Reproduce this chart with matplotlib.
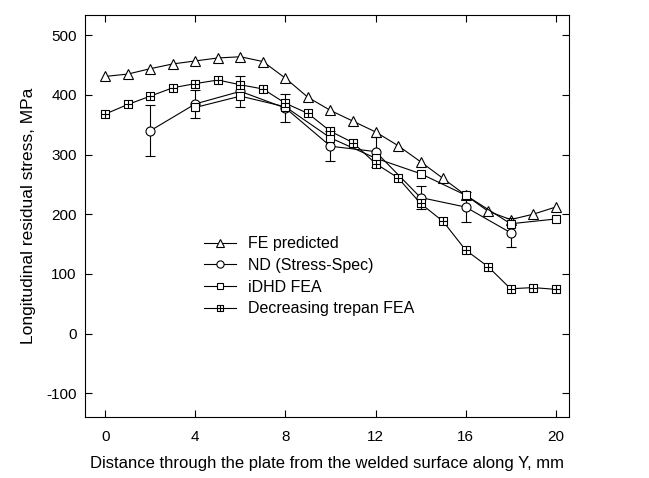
import numpy as np
import matplotlib
matplotlib.use("Agg")
import matplotlib.pyplot as plt
from matplotlib.path import Path
from matplotlib.lines import Line2D

plt.rcParams["font.family"] = ["Liberation Sans", "DejaVu Sans"]
plt.rcParams["axes.unicode_minus"] = False

# distance through plate (mm)
x_fe = [0, 1, 2, 3, 4, 5, 6, 7, 8, 9, 10, 11, 12, 13, 14, 15, 16, 17, 18, 19, 20]
fe_predicted = [431, 435, 444, 452, 457, 462, 464, 456, 428, 396, 374, 356, 338,
                315, 288, 260, 232, 205, 191, 200, 212]

x_trepan = [0, 1, 2, 3, 4, 5, 6, 7, 8, 9, 10, 11, 12, 13, 14, 15, 16, 17, 18, 19, 20]
trepan_fea = [368, 384, 398, 412, 419, 425, 417, 410, 386, 369, 339, 320, 285,
              261, 218, 188, 140, 112, 75, 77, 74]

x_nd = [2, 4, 6, 8, 10, 12, 14, 16, 18]
nd_stress = [340, 385, 406, 378, 314, 305, 228, 212, 169]
nd_err = [43, 23, 26, 24, 25, 25, 20, 25, 24]

x_idhd = [4, 6, 8, 10, 12, 14, 16, 18, 20]
idhd_fea = [379, 398, 380, 328, 294, 268, 232, 184, 192]

# square with a cross inside
sq_plus = Path(
    [(-1, -1), (1, -1), (1, 1), (-1, 1), (-1, -1), (0, -1), (0, 1), (-1, 0), (1, 0)],
    [Path.MOVETO, Path.LINETO, Path.LINETO, Path.LINETO, Path.CLOSEPOLY,
     Path.MOVETO, Path.LINETO, Path.MOVETO, Path.LINETO],
)

fig = plt.figure(figsize=(6.49, 4.78), dpi=100)
ax = fig.add_axes([0.131, 0.1276, 0.746, 0.841])

lw = 0.8
style = dict(color="black", lw=lw, markerfacecolor="white",
             markeredgecolor="black", markeredgewidth=0.8)

h_fe, = ax.plot(x_fe, fe_predicted, marker="^", markersize=6.5,
                label="FE predicted", zorder=3, **style)
ax.errorbar(x_nd, nd_stress, yerr=nd_err, marker="o", markersize=6.5,
            capsize=3.5, elinewidth=0.8, capthick=0.8, zorder=3, **style)
h_nd = Line2D([], [], marker="o", markersize=6.5, label="ND (Stress-Spec)", **style)
h_id, = ax.plot(x_idhd, idhd_fea, marker="s", markersize=5.5,
                label="iDHD FEA", zorder=4, **style)
h_tr, = ax.plot(x_trepan, trepan_fea, marker=sq_plus, markersize=5.5,
                label="Decreasing trepan FEA", zorder=4, **style)

ax.set_xlim(-0.9, 20.6)
ax.set_ylim(-140, 534)
ax.set_xticks([0, 4, 8, 12, 16, 20])
ax.set_yticks([-100, 0, 100, 200, 300, 400, 500])
ax.tick_params(direction="in", length=5, width=0.8, top=True, right=True,
               labelsize=11)
ax.tick_params(axis="x", pad=9)
ax.tick_params(axis="y", pad=6)
for s in ax.spines.values():
    s.set_linewidth(0.8)

ax.set_xlabel("Distance through the plate from the welded surface along Y, mm",
              fontsize=12, labelpad=9)
ax.set_ylabel("Longitudinal residual stress, MPa", fontsize=12.5, labelpad=7)

ax.legend(handles=[h_fe, h_nd, h_id, h_tr], loc="upper left",
          bbox_to_anchor=(0.246, 0.45), frameon=False, fontsize=11.5,
          handlelength=2.0, handletextpad=0.75, labelspacing=0.42,
          borderpad=0, borderaxespad=0, markerscale=0.8)

fig.savefig("out.png", dpi=100)
